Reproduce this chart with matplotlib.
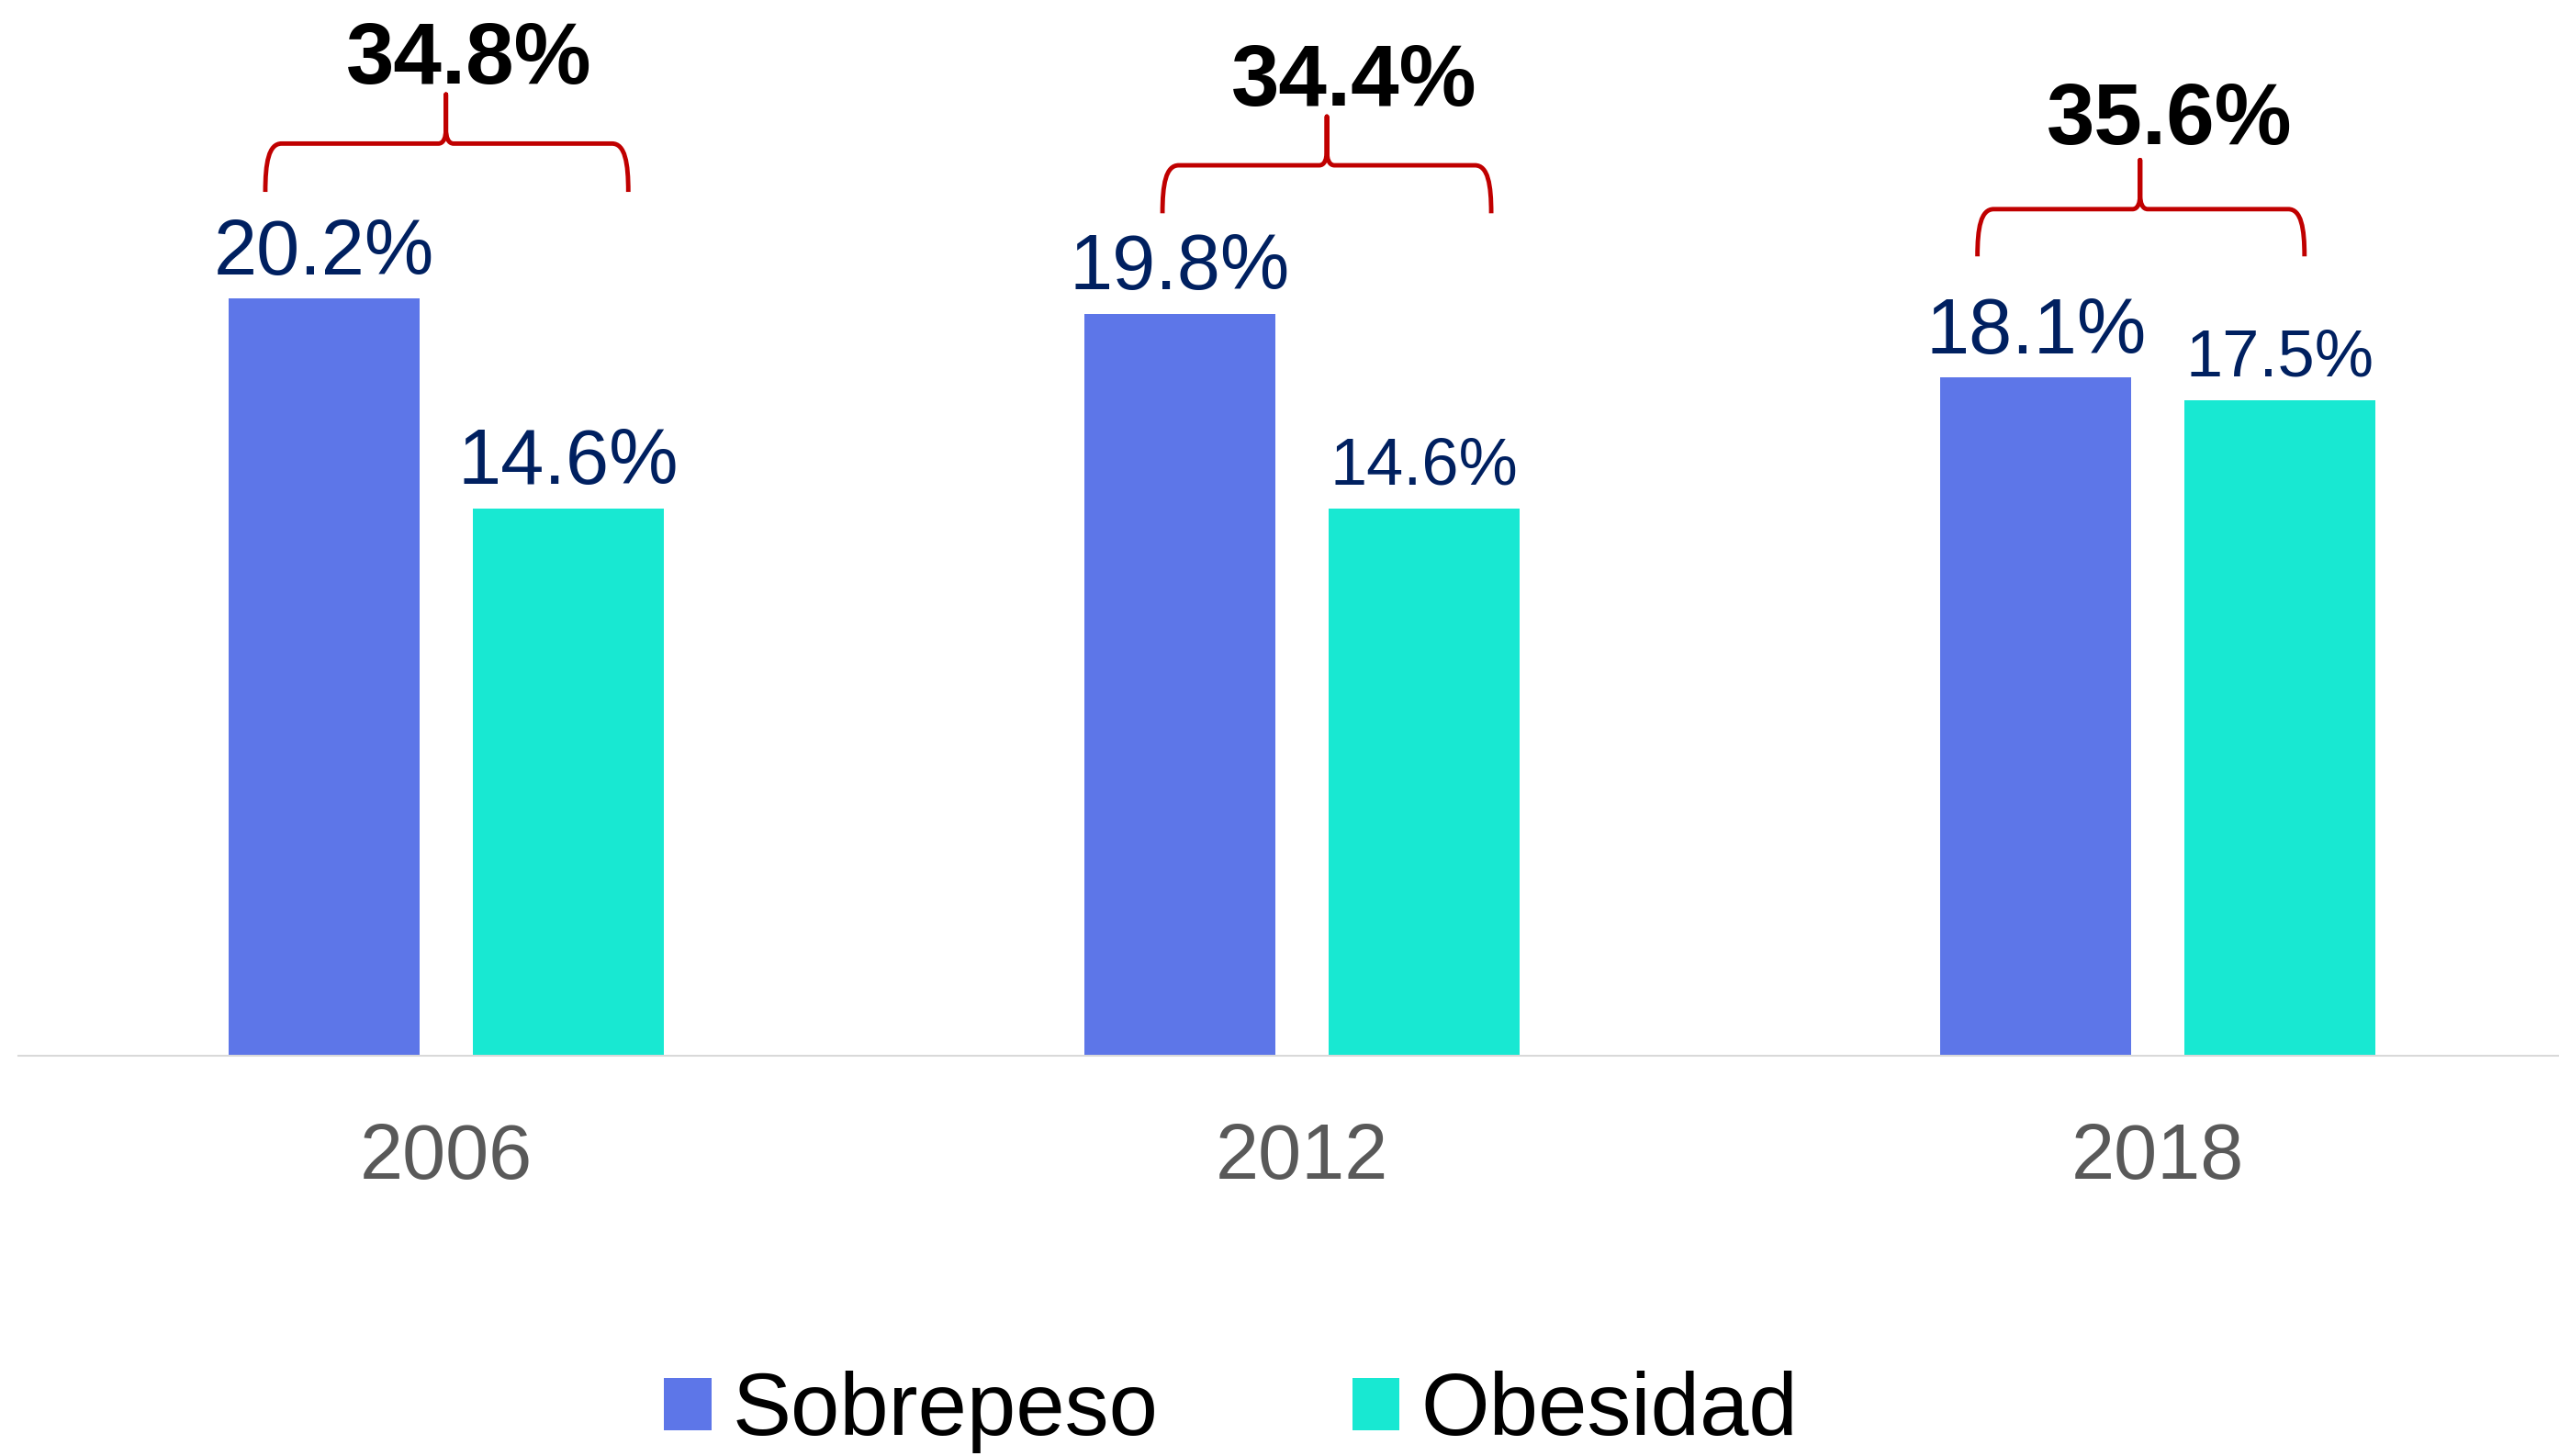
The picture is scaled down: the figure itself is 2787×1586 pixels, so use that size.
import matplotlib
matplotlib.use('Agg')
import matplotlib.pyplot as plt
from matplotlib.path import Path
from matplotlib.patches import PathPatch
import numpy as np

# datos de la grafica
anios = ['2006', '2012', '2018']
sobrepeso = [20.2, 19.8, 18.1]
obesidad = [14.6, 14.6, 17.5]
totales = [34.8, 34.4, 35.6]

plt.rcParams['font.family'] = ['Liberation Sans', 'DejaVu Sans']

COLOR_SOB = '#5D76E8'
COLOR_OBE = '#18E8D2'
COLOR_ETQ = '#002060'
COLOR_LLAVE = '#C00000'

fig = plt.figure(figsize=(27.87, 15.86), dpi=100)
ax = fig.add_axes([0.0070, 0.2749, 1.0036, 0.7207])

x = np.arange(len(anios))
ancho = 0.223
sep = 0.1427

ax.bar(x - sep, sobrepeso, ancho, color=COLOR_SOB, label='Sobrepeso')
ax.bar(x + sep, obesidad, ancho, color=COLOR_OBE, label='Obesidad')

ax.set_xlim(-0.5, 2.5)
ax.set_ylim(0, 28)

# etiquetas de valor sobre cada barra
tam_sob = [61, 61, 61]
tam_obe = [61, 52, 52]
for i in range(len(anios)):
    ax.text(x[i] - sep, sobrepeso[i] + 0.65, f'{sobrepeso[i]:.1f}%', ha='center',
            va='baseline', fontsize=tam_sob[i], color=COLOR_ETQ)
    ax.text(x[i] + sep, obesidad[i] + 0.65, f'{obesidad[i]:.1f}%', ha='center',
            va='baseline', fontsize=tam_obe[i], color=COLOR_ETQ)


def llave(ax, xl, xr, xc, yb, yh, yt, rx=0.019, cx=0.009, cy=0.4):
    L = yh - yb
    verts = [
        (xl, yb), (xl, yb + 0.6 * L), (xl + 0.2 * rx, yh), (xl + rx, yh),
        (xc - cx, yh),
        (xc - 0.3 * cx, yh), (xc, yh + 0.4 * cy), (xc, yh + cy),
        (xc, yt),
        (xc, yh + cy),
        (xc, yh + 0.4 * cy), (xc + 0.3 * cx, yh), (xc + cx, yh),
        (xr - rx, yh),
        (xr - 0.2 * rx, yh), (xr, yb + 0.6 * L), (xr, yb),
    ]
    codes = [Path.MOVETO, Path.CURVE4, Path.CURVE4, Path.CURVE4,
             Path.LINETO,
             Path.CURVE4, Path.CURVE4, Path.CURVE4,
             Path.LINETO, Path.LINETO,
             Path.CURVE4, Path.CURVE4, Path.CURVE4,
             Path.LINETO,
             Path.CURVE4, Path.CURVE4, Path.CURVE4]
    p = PathPatch(Path(verts, codes), fill=False, edgecolor=COLOR_LLAVE,
                  lw=3.5, capstyle='butt', joinstyle='round', clip_on=False)
    ax.add_patch(p)


# llaves y totales (sobrepeso + obesidad)
llaves = [
    (-0.211, 0.213, 0.0, 23.05, 24.34, 25.65),
    (-0.163, 0.221, 0.029, 22.48, 23.76, 25.06),
    (-0.211, 0.171, -0.021, 21.33, 22.59, 23.90),
]
pos_total = [(0.027, 25.95), (0.061, 25.35), (0.013, 24.33)]
for i, (xl, xr, xc, yb, yh, yt) in enumerate(llaves):
    llave(ax, x[i] + xl, x[i] + xr, x[i] + xc, yb, yh, yt)
    dx, yy = pos_total[i]
    ax.text(x[i] + dx, yy, f'{totales[i]:.1f}%', ha='center', va='baseline',
            fontsize=68, fontweight='bold', color='black', clip_on=False)

for s in ['top', 'left', 'right']:
    ax.spines[s].set_visible(False)
ax.spines['bottom'].set_color('#D9D9D9')
ax.spines['bottom'].set_linewidth(1.5)
ax.set_yticks([])
ax.set_xticks(x)
ax.set_xticklabels(anios)
ax.tick_params(axis='x', length=0, pad=52, labelsize=61, labelcolor='#595959')

fig.legend(loc='center', bbox_to_anchor=(0.481, 0.030), ncol=2, frameon=False,
           fontsize=69, handlelength=0.54, handleheight=0.54,
           handletextpad=0.24, columnspacing=2.2, borderpad=0)

fig.savefig('out.png', dpi=100)
